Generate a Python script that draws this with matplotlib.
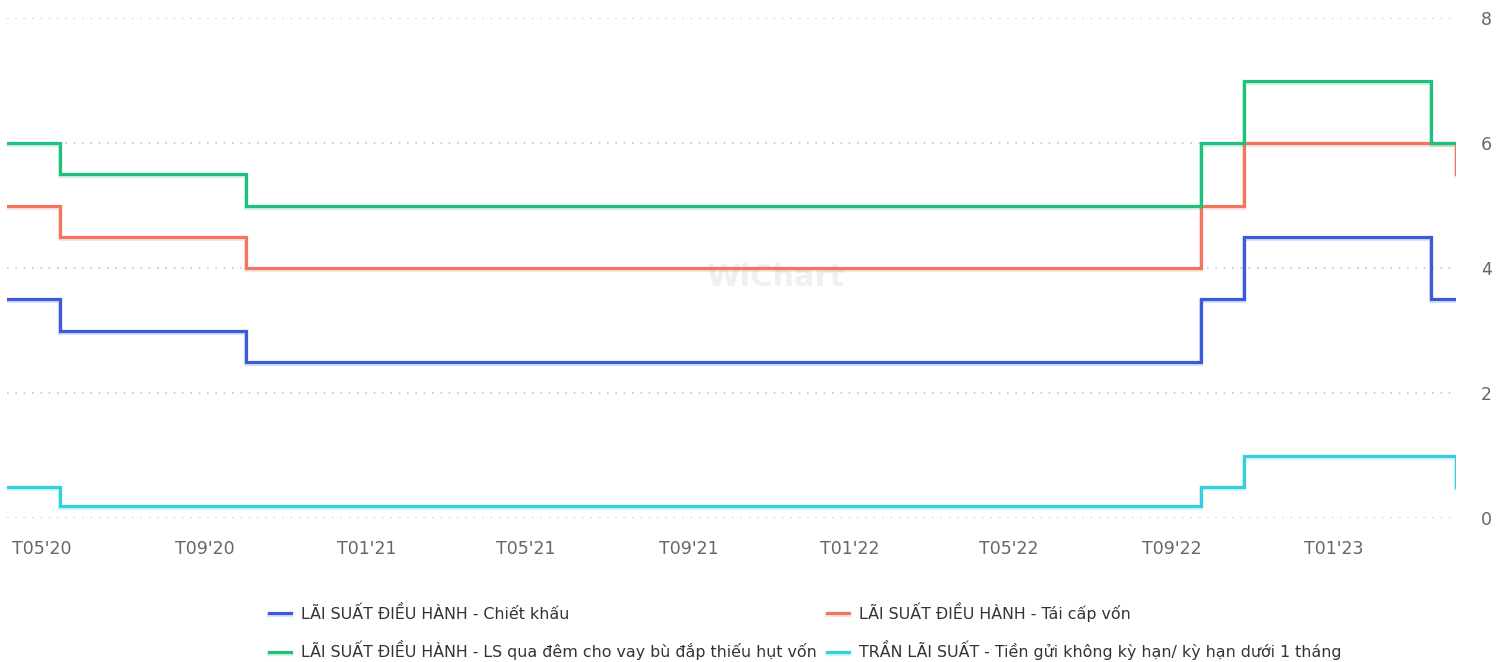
import matplotlib
matplotlib.use("Agg")
import matplotlib.pyplot as plt
import matplotlib.dates as mdates
import matplotlib.patheffects as pe
import pandas as pd

# ngày thay đổi lãi suất (điểm cuối là ngày cập nhật gần nhất)
dates = pd.to_datetime(["2020-04-05", "2020-05-15", "2020-10-02",
                        "2022-09-23", "2022-10-25", "2023-03-15", "2023-04-03"])
chiet_khau = [3.5, 3.0, 2.5, 3.5, 4.5, 3.5, 3.5]
tai_cap_von = [5.0, 4.5, 4.0, 5.0, 6.0, 6.0, 5.5]
qua_dem = [6.0, 5.5, 5.0, 6.0, 7.0, 6.0, 6.0]
tran_ls = [0.5, 0.2, 0.2, 0.5, 1.0, 1.0, 0.5]

labels = ["LÃI SUẤT ĐIỀU HÀNH - Chiết khấu",
          "LÃI SUẤT ĐIỀU HÀNH - Tái cấp vốn",
          "LÃI SUẤT ĐIỀU HÀNH - LS qua đêm cho vay bù đắp thiếu hụt vốn",
          "TRẦN LÃI SUẤT - Tiền gửi không kỳ hạn/ kỳ hạn dưới 1 tháng"]
colors = ["#3b5bdb", "#f2755e", "#1fbf7d", "#32d0df"]

tick_dates = pd.date_range("2020-05-01", "2023-01-01", freq="4MS")
yticks = [0, 2, 4, 6, 8]

plt.rcParams["font.family"] = ["DejaVu Sans"]

fig = plt.figure(figsize=(15.06, 6.62), dpi=100)
ax = fig.add_axes([7 / 1506, 144 / 662, 1449 / 1506, 500 / 662])

lines = []
for vals, lab, col in zip([chiet_khau, tai_cap_von, qua_dem, tran_ls], labels, colors):
    ln, = ax.plot(dates, vals, drawstyle="steps-post", color=col, lw=2.3,
                  label=lab, solid_joinstyle="miter",
                  path_effects=[pe.SimpleLineShadow(offset=(0, -1.5), shadow_color=col,
                                                    alpha=0.2, linewidth=3),
                                pe.Normal()])
    lines.append(ln)

ax.set_xlim(dates[0], dates[-1])
ax.set_ylim(0, 8)
ax.set_yticks(yticks)
ax.set_xticks(tick_dates)
ax.xaxis.set_major_formatter(mdates.DateFormatter("T%m'%y"))
ax.yaxis.tick_right()
ax.tick_params(axis="both", length=0, labelsize=12.5, colors="#666666")
ax.tick_params(axis="x", pad=16)
ax.tick_params(axis="y", pad=22)
for lab in ax.get_yticklabels():
    lab.set_horizontalalignment("center")
ax.grid(axis="y", color="#c8c8c8", linestyle=(0, (1, 4)), linewidth=1.2)
ax.grid(axis="x", visible=False)
ax.set_axisbelow(True)
for s in ax.spines.values():
    s.set_visible(False)

ax.text(0.53, 0.48, "WiChart", transform=ax.transAxes, ha="center", va="center",
        fontsize=22, fontweight="bold", color="#f0f0f0", zorder=0)

fig.legend([lines[0], lines[2], lines[1], lines[3]],
           [labels[0], labels[2], labels[1], labels[3]],
           ncol=2, loc="center left", bbox_to_anchor=(269 / 1506, 1 - 631 / 662),
           borderpad=0, borderaxespad=0,
           frameon=False, fontsize=11.45, handlelength=1.4, handletextpad=0.6,
           columnspacing=0.65, labelspacing=1.15, labelcolor="#333333")

fig.savefig("out.png", dpi=100, facecolor="white")
